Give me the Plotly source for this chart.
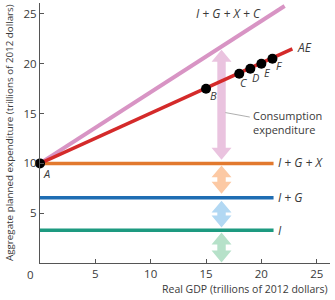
import plotly.graph_objects as go

# ---- data ----
gdp_line = [0, 22.1]
total_line = [10, 25.8]          # I + G + X + C
ae_x = [0, 22.8]
ae_y = [10, 21.5]                # AE
flat_x = [0, 21.1]
i_level = 3.3
ig_level = 6.55
igx_level = 10.0
pt_labels = ["A", "B", "C", "D", "E", "F"]
pt_x = [0, 15, 18, 19, 20, 21]
pt_y = [10, 17.5, 19.0, 19.5, 20.0, 20.5]
x_ticks = [5, 10, 15, 20, 25]
y_ticks = [5, 10, 15, 20, 25]
# arrows: (bottom, top, fill)
arrow_x = 16.4
arrows = [
    (10.37, 21.4, "#eac3df"),
    (6.96, 9.8, "#fcc9a4"),
    (3.56, 6.26, "#b2d8f3"),
    (0.05, 3.06, "#b6e1c9"),
]

PINK = "#d894c4"
RED = "#d42a2a"
ORANGE = "#e2792e"
BLUE = "#1f6db3"
GREEN = "#1d9a80"
TXT = "#3a3a3a"
FONT = "Open Sans"

fig = go.Figure()

def arrow_path(xc, y0, y1, hw=0.9, hl=1.2, sw=0.38):
    pts = [(xc, y1), (xc + hw, y1 - hl), (xc + sw, y1 - hl), (xc + sw, y0 + hl),
           (xc + hw, y0 + hl), (xc, y0), (xc - hw, y0 + hl), (xc - sw, y0 + hl),
           (xc - sw, y1 - hl), (xc - hw, y1 - hl)]
    return "M " + " L ".join(f"{a},{b}" for a, b in pts) + " Z"

shapes = []
for y0, y1, col in arrows:
    shapes.append(dict(type="path", path=arrow_path(arrow_x, y0, y1), xref="x", yref="y",
                       fillcolor=col, line=dict(width=0), layer="below"))
# leader line for consumption label
shapes.append(dict(type="line", xref="x", yref="y", x0=16.75, y0=15.1, x1=18.95, y1=14.65,
                   line=dict(color="#9a9a9a", width=0.8)))

fig.add_trace(go.Scatter(x=flat_x, y=[i_level] * 2, mode="lines", line=dict(color=GREEN, width=3.5)))
fig.add_trace(go.Scatter(x=flat_x, y=[ig_level] * 2, mode="lines", line=dict(color=BLUE, width=3.5)))
fig.add_trace(go.Scatter(x=flat_x, y=[igx_level] * 2, mode="lines", line=dict(color=ORANGE, width=3.5)))
fig.add_trace(go.Scatter(x=gdp_line, y=total_line, mode="lines", line=dict(color=PINK, width=4)))
fig.add_trace(go.Scatter(x=ae_x, y=ae_y, mode="lines", line=dict(color=RED, width=3.5)))
fig.add_trace(go.Scatter(x=pt_x, y=pt_y, mode="markers", marker=dict(color="black", size=10),
                         cliponaxis=False))

ann = []
def lab(x, y, t, xa="left", size=12, italic=True):
    txt = f"<i>{t}</i>" if italic else t
    ann.append(dict(x=x, y=y, xref="x", yref="y", text=txt, showarrow=False, xanchor=xa,
                    yanchor="middle", font=dict(family=FONT, size=size, color=TXT)))

lab(17.0, 25.0, "I + G + X + C", xa="center")
lab(23.0, 21.6, "AE")
lab(21.3, 10.07, "I + G + X")
lab(21.3, 6.56, "I + G")
lab(21.3, 3.26, "I")
pt_off = [(0.55, -1.05), (0.65, -0.7), (0.4, -0.9), (0.45, -0.85), (0.55, -0.9), (0.65, -0.7)]
for name, x, y, (dx, dy) in zip(pt_labels, pt_x, pt_y, pt_off):
    lab(x + dx, y + dy, name, xa="center", size=11)
ann.append(dict(x=19.1, y=14.1, xref="x", yref="y", text="Consumption<br>expenditure",
                showarrow=False, xanchor="left", align="left", yanchor="middle",
                font=dict(family=FONT, size=11, color=TXT)))
# origin label and axis titles
ann.append(dict(x=-10 / 290, y=-0.045, xref="paper", yref="paper", text="0", showarrow=False,
                xanchor="center", yanchor="middle", font=dict(family=FONT, size=11.5, color=TXT)))
ann.append(dict(x=1.0, y=-0.1, xref="paper", yref="paper",
                text="Real GDP (trillions of 2012 dollars)", showarrow=False,
                xanchor="right", yanchor="middle", font=dict(family=FONT, size=10.5, color=TXT)))
ann.append(dict(x=-31 / 290, y=0.5, xref="paper", yref="paper",
                text="Aggregate planned expenditure (trillions of 2012 dollars)", showarrow=False,
                textangle=-90, xanchor="center", yanchor="middle",
                font=dict(family=FONT, size=9.8, color=TXT)))

axis_common = dict(showgrid=False, zeroline=False, showline=True, linecolor="#555555",
                   linewidth=1.3, ticks="inside", ticklen=4, tickcolor="#555555",
                   tickfont=dict(family=FONT, size=11.5, color=TXT))
fig.update_layout(
    width=335, height=300,
    margin=dict(l=40, r=5, t=3, b=36.5),
    paper_bgcolor="white", plot_bgcolor="white",
    showlegend=False,
    xaxis=dict(range=[0, 26.2], tickvals=x_ticks, **axis_common),
    yaxis=dict(range=[0, 26.1], tickvals=y_ticks, **axis_common),
    shapes=shapes, annotations=ann,
)
fig.write_html("out.html")
